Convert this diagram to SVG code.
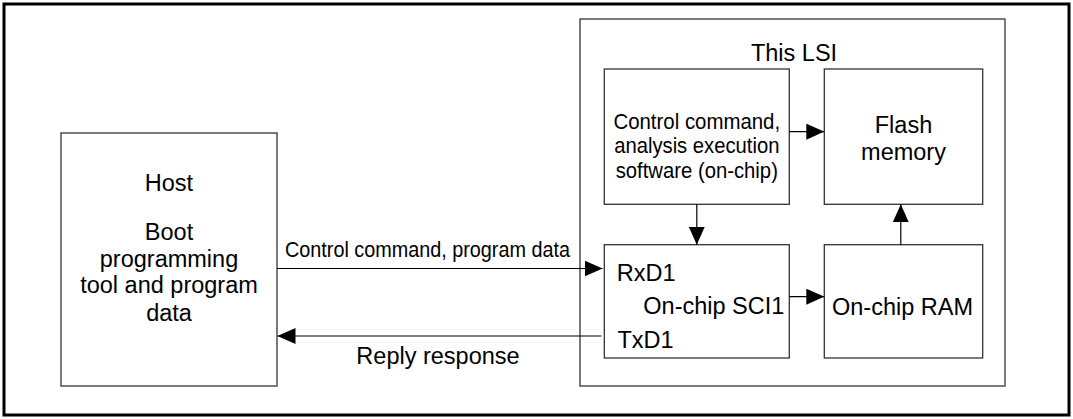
<svg xmlns="http://www.w3.org/2000/svg" width="1073" height="419" viewBox="0 0 1073 419">
<style>
.box{fill:#fff;stroke:#333;stroke-width:1.3}
.frame{fill:none;stroke:#000;stroke-width:3}
.t{font-family:"Liberation Sans",Arial,sans-serif;font-size:23.5px;fill:#000}
.c{text-anchor:middle}
.n{font-size:21.5px}
.con{stroke:#000;stroke-width:1.2;fill:none;marker-end:url(#ah)}
</style>
<defs>
<marker id="ah" viewBox="0 0 18 16" refX="18" refY="8" markerWidth="18" markerHeight="16" markerUnits="userSpaceOnUse" orient="auto">
<path d="M0,0 L18,8 L0,16 z" fill="#000"/>
</marker>
</defs>
<rect class="frame" x="4" y="4" width="1065" height="411"/>
<g id="host">
<rect class="box" x="61" y="133" width="216" height="253"/>
<text class="t c" x="169" y="191">Host</text>
<text class="t c" x="169" y="240">Boot</text>
<text class="t c" x="169" y="266.7">programming</text>
<text class="t c" x="169" y="293.3">tool and program</text>
<text class="t c" x="169" y="320.7">data</text>
</g>
<g id="lsi">
<rect class="box" x="580" y="19" width="425" height="367"/>
<text class="t c" x="794" y="60.7">This LSI</text>
</g>
<g id="software">
<rect class="box" x="604.3" y="69" width="185" height="135.3"/>
<text class="t c n" x="696.8" y="129" textLength="166.7" lengthAdjust="spacingAndGlyphs">Control command,</text>
<text class="t c n" x="696.8" y="153.3" textLength="165.2" lengthAdjust="spacingAndGlyphs">analysis execution</text>
<text class="t c n" x="696.8" y="177.6" textLength="162.2" lengthAdjust="spacingAndGlyphs">software (on-chip)</text>
</g>
<g id="flash">
<rect class="box" x="824.3" y="69" width="158.4" height="135.3"/>
<text class="t c" x="903.5" y="133.3">Flash</text>
<text class="t c" x="903.5" y="160">memory</text>
</g>
<g id="sci">
<rect class="box" x="604.3" y="244.7" width="185" height="113.3"/>
<text class="t" x="616.7" y="280.7">RxD1</text>
<text class="t" x="643.3" y="314">On-chip SCI1</text>
<text class="t" x="617.4" y="347.7">TxD1</text>
</g>
<g id="ram">
<rect class="box" x="824.3" y="244.7" width="158.4" height="113.3"/>
<text class="t c" x="902.5" y="315">On-chip RAM</text>
</g>
<g id="connectors">
<path class="con" d="M277,268.5 H602.5"/>
<path class="con" d="M601.5,336 H277.5"/>
<path class="con" d="M789.3,131.7 H824.3"/>
<path class="con" d="M696.8,204.3 V244.7"/>
<path class="con" d="M789.3,296.7 H824.3"/>
<path class="con" d="M900.8,244.7 V204.3"/>
<text class="t n" x="285" y="256.7" textLength="285" lengthAdjust="spacingAndGlyphs">Control command, program data</text>
<text class="t c" x="438" y="364.3">Reply response</text>
</g>
</svg>
